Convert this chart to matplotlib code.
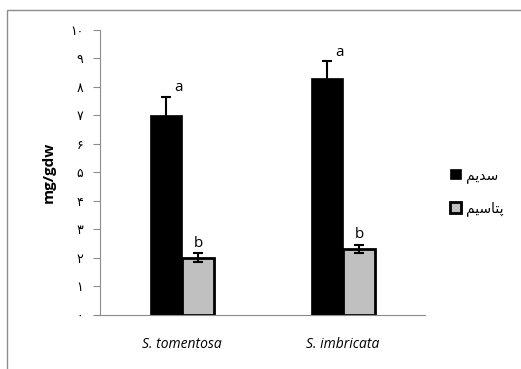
import numpy as np
import matplotlib
matplotlib.use("Agg")
import matplotlib.pyplot as plt
from matplotlib.patches import Rectangle, Patch

plt.rcParams['font.family'] = ['Open Sans', 'DejaVu Sans']

# data
species = ["S. tomentosa", "S. imbricata"]
sodium = [7.0, 8.3]
sodium_err = [0.65, 0.6]
potassium = [2.0, 2.3]
potassium_err = [0.15, 0.15]
sodium_letters = ["a", "a"]
potassium_letters = ["b", "b"]
yticks = list(range(0, 11))
# Persian digits for the y tick labels
persian_digits = "۰۱۲۳۴۵۶۷۸۹"
ytick_labels = ["".join(persian_digits[int(c)] for c in str(v)) for v in yticks]

# legend names written in visual order with presentation forms (no shaping engine)
sodium_name = "\uFEE2\uFEF3\uFEAA\uFEB3"            # سدیم
potassium_name = "\uFEE2\uFEF4\uFEB3\uFE8E\uFE98\uFB58"  # پتاسیم

fig = plt.figure(figsize=(5.21, 3.69), dpi=100)
# outer frame of the chart area
fig.patches.append(Rectangle((7 / 521, -0.05), 1.1, 1 - 10 / 369 + 0.05,
                             transform=fig.transFigure, fill=False,
                             edgecolor='#8c8c8c', linewidth=1.0))

ax = fig.add_axes([100 / 521, 1 - 314.5 / 369, 325 / 521, 284.5 / 369])

x = np.arange(len(species))
w = 0.2
ax.bar(x - w / 2, sodium, w, color='black', edgecolor='black', linewidth=0.5,
       yerr=sodium_err, error_kw=dict(ecolor='black', elinewidth=1.5, capsize=3.5, capthick=1.5),
       zorder=2)
ax.bar(x + w / 2, potassium, w, color='#c0c0c0', edgecolor='black', linewidth=2.0,
       yerr=potassium_err, error_kw=dict(ecolor='black', elinewidth=1.5, capsize=3.5, capthick=1.5),
       zorder=2)

for i in range(len(species)):
    ax.annotate(sodium_letters[i], (x[i] - w / 2, sodium[i] + sodium_err[i]),
                xytext=(9, 1), textcoords='offset points', ha='center', va='bottom',
                fontsize=11)
    ax.annotate(potassium_letters[i], (x[i] + w / 2, potassium[i] + potassium_err[i]),
                xytext=(0, 2), textcoords='offset points', ha='center', va='bottom',
                fontsize=11)

ax.set_xlim(-0.51, 1.51)
ax.set_ylim(0, 10)
ax.set_yticks(yticks)
ax.set_yticklabels(ytick_labels, fontsize=9)
ax.set_xticks(x)
ax.set_xticklabels(species, fontsize=10, style='italic')
ax.tick_params(axis='x', length=0, pad=16)
ax.tick_params(axis='y', length=5, color='#8c8c8c', pad=7)
for s in ['top', 'right']:
    ax.spines[s].set_visible(False)
ax.spines['left'].set_color('#8c8c8c')
ax.spines['bottom'].set_color('#8c8c8c')
ax.spines['bottom'].set_bounds(-0.54, 1.51)
ax.set_ylabel("mg/gdw", fontsize=11, fontweight='bold', labelpad=10)

handles = [Patch(facecolor='black', edgecolor='black', linewidth=0.5),
           Patch(facecolor='#c0c0c0', edgecolor='black', linewidth=2.0)]
fig.legend(handles, [sodium_name, potassium_name], loc='center left',
           bbox_to_anchor=(437 / 521, 1 - 192 / 369), frameon=False,
           handlelength=0.8, handleheight=0.8, handletextpad=0.4,
           labelspacing=1.3, fontsize=10)

fig.savefig("out.png", dpi=100)
